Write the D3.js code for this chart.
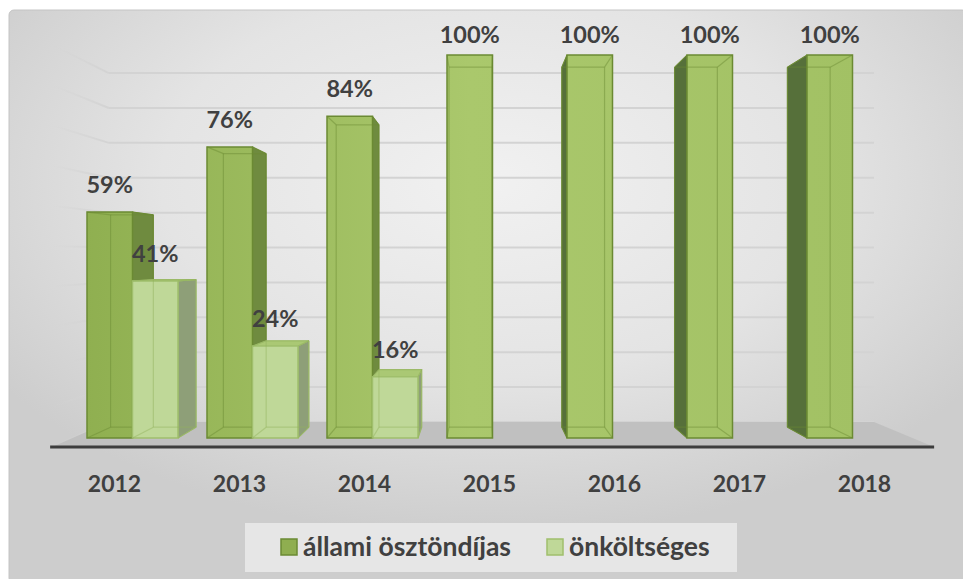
<!DOCTYPE html>
<html>
<head>
<meta charset="utf-8">
<script src="https://cdn.jsdelivr.net/npm/d3@7"></script>
<style>
  html, body { margin: 0; padding: 0; background: #ffffff; }
  svg { display: block; }
  text { font-family: Lato, "Open Sans", "DejaVu Sans", sans-serif; font-weight: 700; fill: #404040; }
</style>
</head>
<body>
<svg id="chart" width="963" height="579"></svg>
<script>
// ---- data ----
const categories = ["2012", "2013", "2014", "2015", "2016", "2017", "2018"];
const allami = [59, 76, 84, 100, 100, 100, 100];
const onkoltseges = [41, 24, 16, 0, 0, 0, 0];
const seriesNames = ["állami ösztöndíjas", "önköltséges"];
const valueSuffix = "%";

// ---- layout ----
const W = 963, H = 579;
const vp = [480, 258];          // vanishing point
const sBarBack = 0.94;          // depth of bar back faces
const sWall = 0.911;            // depth of back wall
const sFloorFront = 1.05;       // front edge of floor
const labelMinY = 43;

const svg = d3.select("#chart");
const defs = svg.append("defs");

const bg = defs.append("radialGradient").attr("id", "bgGrad")
  .attr("cx", 0.5).attr("cy", 0.3).attr("r", 0.62);
bg.append("stop").attr("offset", 0).attr("stop-color", "#f1f1f1");
bg.append("stop").attr("offset", 0.55).attr("stop-color", "#e4e4e4");
bg.append("stop").attr("offset", 1).attr("stop-color", "#cdcdcd");

const frontGrad = defs.append("linearGradient").attr("id", "darkFront")
  .attr("gradientUnits", "userSpaceOnUse").attr("x1", 80).attr("x2", 860).attr("y1", 0).attr("y2", 0);
frontGrad.append("stop").attr("offset", 0).attr("stop-color", "#8faf50");
frontGrad.append("stop").attr("offset", 0.5).attr("stop-color", "#aac86c");
frontGrad.append("stop").attr("offset", 1).attr("stop-color", "#a2c164");

const fade = defs.append("linearGradient").attr("id", "sideFade")
  .attr("x1", 1).attr("x2", 0).attr("y1", 0).attr("y2", 0);
fade.append("stop").attr("offset", 0).attr("stop-color", "#d3d3d3").attr("stop-opacity", 1);
fade.append("stop").attr("offset", 1).attr("stop-color", "#d3d3d3").attr("stop-opacity", 0);

// background panel
svg.append("rect").attr("x", 9).attr("y", 10).attr("width", W - 9 + 4).attr("height", H - 10 + 4)
  .attr("rx", 5).attr("fill", "url(#bgGrad)").attr("stroke", "#c4c4c4").attr("stroke-width", 1);

// ---- scales ----
const y = d3.scaleLinear().domain([0, 100]).range([438, 55]);
const x0 = d3.scaleBand().domain(categories).range([72.5, 912.5])
  .paddingInner(29 / 120).paddingOuter(29 / 240);
const x1 = d3.scaleBand().domain([0, 1]).range([0, x0.bandwidth()]).padding(0);
const xLabel = d3.scalePoint().domain(categories).range([114.5, 864.5]);

const P = (X, Y, s) => [vp[0] + (X - vp[0]) * s, vp[1] + (Y - vp[1]) * s];
const poly = pts => "M" + pts.map(p => p.join(",")).join("L") + "Z";

const [xMin, xMax] = x0.range();

// ---- back wall gridlines ----
const ticks = y.ticks(10);
const g = svg.append("g");
ticks.forEach(t => {
  const a = P(xMin, y(t), sWall), b = P(xMax, y(t), sWall);
  g.append("line").attr("x1", a[0]).attr("y1", a[1]).attr("x2", b[0]).attr("y2", b[1])
    .attr("stroke", "#d3d3d3").attr("stroke-width", 2);
  const c = P(xMin, y(t), sFloorFront);
  g.append("line").attr("x1", a[0]).attr("y1", a[1]).attr("x2", c[0]).attr("y2", c[1])
    .attr("stroke", "url(#sideFade)").attr("stroke-width", 2);
});

// ---- floor ----
svg.append("path").attr("d", poly([
  P(xMin, y(0), sFloorFront), P(xMax, y(0), sFloorFront),
  P(xMax, y(0), sWall), P(xMin, y(0), sWall)
])).attr("fill", "#c0c0c0");
const fl = P(xMin, y(0), sFloorFront), fr = P(xMax, y(0), sFloorFront);
svg.append("line").attr("x1", fl[0] - 2).attr("x2", fr[0]).attr("y1", fl[1]).attr("y2", fr[1])
  .attr("stroke", "#3d3d3d").attr("stroke-width", 3);

// ---- bars ----
const styles = [
  { front: "url(#darkFront)", sideR: "#6f8b3f", sideL: "#56703a", top: "#a3c263", stroke: "#6b8a33", ghost: "#6b8a33" },
  { front: "#bfd898", sideR: "#8e9f78", sideL: "#8e9f78", top: "#aac874", stroke: "#a0bf6c", ghost: "#93b25e" }
];

const barsG = svg.append("g");
function drawBar(cat, si, v) {
  if (!v) return;
  const st = styles[si];
  const X0 = x0(cat) + x1(si), X1 = X0 + x1.bandwidth();
  const Yt = y(v), Yb = y(0);
  const f = { tl: [X0, Yt], tr: [X1, Yt], bl: [X0, Yb], br: [X1, Yb] };
  const b = { tl: P(X0, Yt, sBarBack), tr: P(X1, Yt, sBarBack), bl: P(X0, Yb, sBarBack), br: P(X1, Yb, sBarBack) };
  const gb = barsG.append("g");
  if (X1 < vp[0]) {
    gb.append("path").attr("d", poly([f.tr, b.tr, b.br, f.br])).attr("fill", st.sideR)
      .attr("stroke", st.stroke).attr("stroke-width", 1);
  } else if (X0 > vp[0]) {
    gb.append("path").attr("d", poly([f.tl, b.tl, b.bl, f.bl])).attr("fill", st.sideL)
      .attr("stroke", st.stroke).attr("stroke-width", 1);
  }
  if (Yt > vp[1]) {
    gb.append("path").attr("d", poly([f.tl, f.tr, b.tr, b.tl])).attr("fill", st.top)
      .attr("stroke", st.stroke).attr("stroke-width", 1);
  }
  gb.append("path").attr("d", poly([f.tl, f.tr, f.br, f.bl])).attr("fill", st.front)
    .attr("stroke", st.stroke).attr("stroke-width", 1.5);
  const ghost = [[b.tl, b.tr], [b.tr, b.br], [b.br, b.bl], [b.bl, b.tl], [f.bl, b.bl], [f.br, b.br], [f.tl, b.tl], [f.tr, b.tr]];
  ghost.forEach(([p, q]) => {
    gb.append("line").attr("x1", p[0]).attr("y1", p[1]).attr("x2", q[0]).attr("y2", q[1])
      .attr("stroke", st.ghost).attr("stroke-width", 1.2).attr("stroke-opacity", 0.45);
  });
}
categories.forEach((cat, i) => {
  drawBar(cat, 0, allami[i]);
  drawBar(cat, 1, onkoltseges[i]);
});

// ---- value labels ----
const labelsG = svg.append("g").attr("text-anchor", "middle").style("font-size", "23.5px");
categories.forEach((cat, i) => {
  [allami[i], onkoltseges[i]].forEach((v, si) => {
    if (!v) return;
    const cx = x0(cat) + x1(si) + x1.bandwidth() / 2;
    labelsG.append("text").attr("x", cx).attr("y", Math.max(y(v) - 19, labelMinY))
      .text(v + valueSuffix);
  });
});

// ---- category axis labels ----
const axG = svg.append("g").attr("text-anchor", "middle").style("font-size", "23px");
categories.forEach(cat => {
  axG.append("text").attr("x", xLabel(cat)).attr("y", 492).text(cat);
});

// ---- legend ----
const leg = svg.append("g");
leg.append("rect").attr("x", 245).attr("y", 523).attr("width", 492).attr("height", 49).attr("fill", "#e6e6e6");
const legItems = [
  { x: 281, fill: "#8fae50", stroke: "#6b8a33" },
  { x: 547, fill: "#bfd898", stroke: "#a0bf6c" }
];
legItems.forEach((it, i) => {
  leg.append("rect").attr("x", it.x).attr("y", 539).attr("width", 16).attr("height", 16)
    .attr("fill", it.fill).attr("stroke", it.stroke).attr("stroke-width", 1.5);
  leg.append("text").attr("x", it.x + 22).attr("y", 556).style("font-size", "26.5px").text(seriesNames[i]);
});
</script>
</body>
</html>
